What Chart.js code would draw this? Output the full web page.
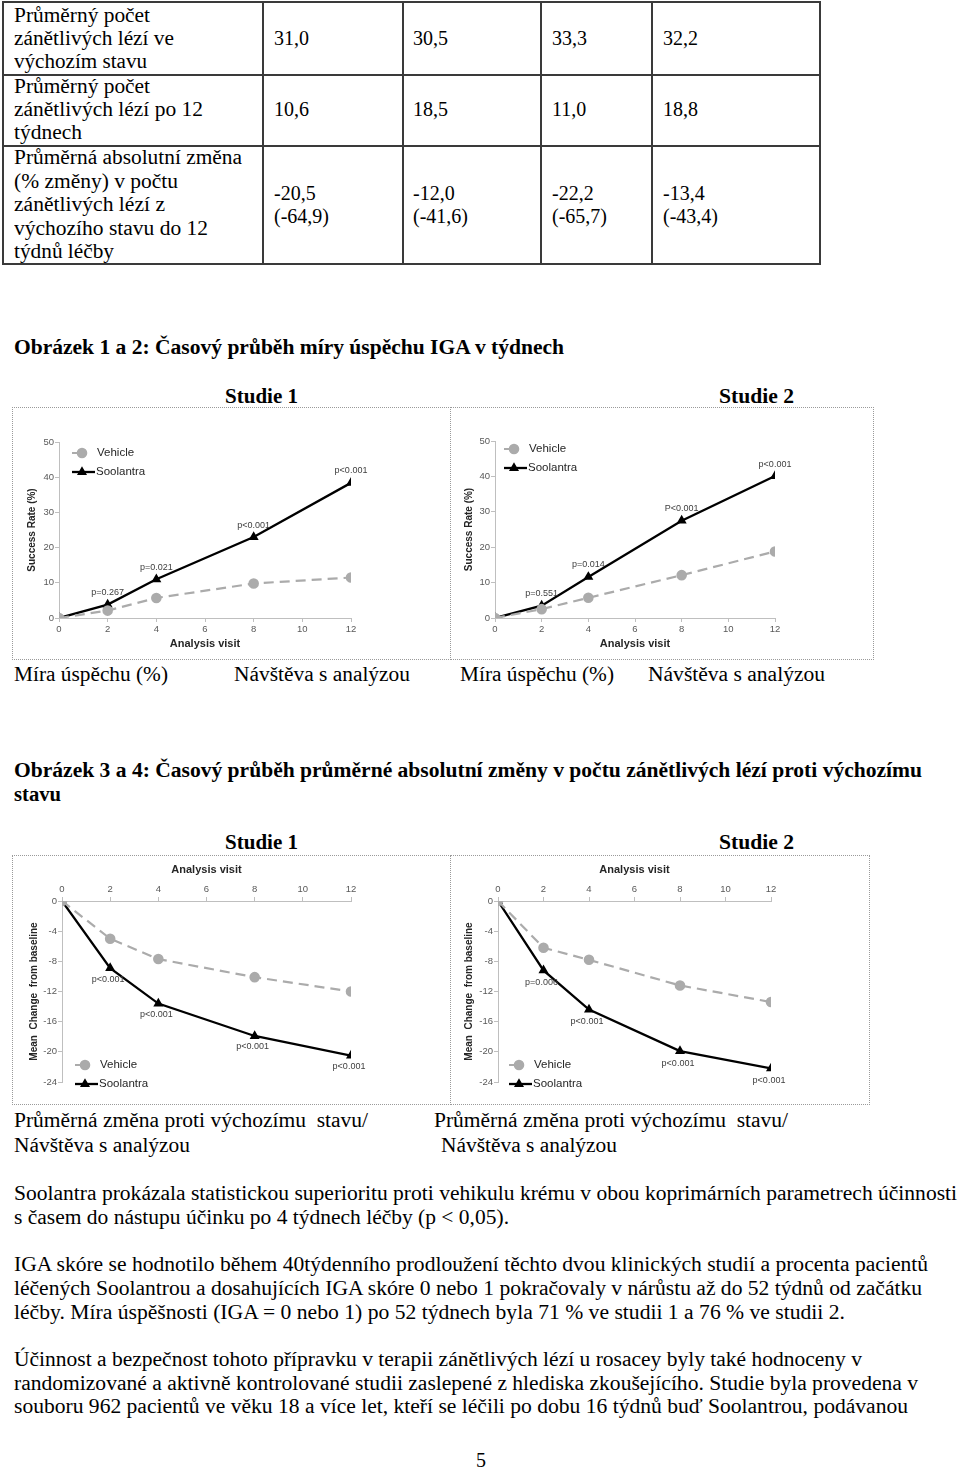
<!DOCTYPE html>
<html>
<head>
<meta charset="utf-8">
<script src="https://cdn.jsdelivr.net/npm/chart.js@4.4.0/dist/chart.umd.min.js"></script>
<style>
    body { margin: 0; width: 960px; height: 1468px; position: relative; overflow: hidden; background: #fff;
           font-family: "Liberation Serif", "Times New Roman", serif; color: #000; }
    .t { position: absolute; white-space: pre; font-size: 20px; line-height: 22px; transform-origin: 0 50%; }
    .b { font-weight: bold; }
    .ln { position: absolute; background: #3a3a3a; }
    .frame { position: absolute; border: 1px dotted #9a9a9a; box-sizing: border-box; }
    .frame canvas { display: block; }
</style>
</head>
<body>

<div class="frame" style="left:12px;top:407px;width:439px;height:253px"><canvas id="chart1"></canvas></div>
<div class="frame" style="left:450px;top:407px;width:424px;height:253px"><canvas id="chart2"></canvas></div>
<div class="frame" style="left:12px;top:855px;width:439px;height:250px"><canvas id="chart3"></canvas></div>
<div class="frame" style="left:450px;top:855px;width:420px;height:250px"><canvas id="chart4"></canvas></div>

<script>
// ---- chart data ----
const visits = [0, 2, 4, 8, 12];

const s1Vehicle   = [0, 2.1, 5.7, 9.8, 11.5];
const s1Soolantra = [0, 3.8, 11.0, 23.0, 38.4];
const s1PValues   = ['', 'p=0.267', 'p=0.021', 'p<0.001', 'p<0.001'];

const s2Vehicle   = [0, 2.5, 5.7, 12.1, 18.8];
const s2Soolantra = [0, 3.5, 11.6, 27.5, 40.1];
const s2PValues   = ['', 'p=0.551', 'p=0.014', 'P<0.001', 'p<0.001'];

const s1VehicleChange   = [0, -5.0, -7.7, -10.1, -12.0];
const s1SoolantraChange = [0, -8.9, -13.6, -17.9, -20.5];
const s1ChangePValues   = ['', 'p<0.001', 'p<0.001', 'p<0.001', 'p<0.001'];

const s2VehicleChange   = [0, -6.2, -7.8, -11.2, -13.4];
const s2SoolantraChange = [0, -9.2, -14.4, -19.9, -22.2];
const s2ChangePValues   = ['', 'p=0.006', 'p<0.001', 'p<0.001', 'p<0.001'];

const seriesNames = ['Vehicle', 'Soolantra'];

// ---- table data ----
const tableValues = [
    ['31,0', '30,5', '33,3', '32,2'],
    ['10,6', '18,5', '11,0', '18,8'],
    ['-20,5\n(-64,9)', '-12,0\n(-41,6)', '-22,2\n(-65,7)', '-13,4\n(-43,4)']
];

/**
 * Put one line of text at x / vertical centre y, squeezed to end at "right"
 */
function place(text, x, y, right, cls) {
    const d = document.createElement('div');
    d.className = 't ' + (cls || '');
    d.textContent = text;
    d.style.left = x + 'px';
    d.style.top = (y - 11) + 'px';
    document.body.appendChild(d);
    if (right) {
        const w = d.getBoundingClientRect().width;
        d.style.transform = 'scaleX(' + ((right - x) / w) + ')';
    }
}

function line(x, y, w, h) {
    const d = document.createElement('div');
    d.className = 'ln';
    d.style.cssText = 'left:' + x + 'px;top:' + y + 'px;width:' + w + 'px;height:' + h + 'px';
    document.body.appendChild(d);
}

// table grid
line(2, 1, 819, 2); line(2, 74, 819, 2); line(2, 145, 819, 2); line(2, 263, 819, 2);
[2, 262, 402, 540, 651, 819].forEach(x => line(x, 1, 2, 264));

// table labels
place('Průměrný počet', 14, 15, 150);
place('zánětlivých lézí ve', 14, 38, 174);
place('výchozím stavu', 14, 61, 147);
place('Průměrný počet', 14, 86, 150);
place('zánětlivých lézí po 12', 14, 109, 203);
place('týdnech', 14, 132, 82);
place('Průměrná absolutní změna', 14, 157, 242);
place('(% změny) v počtu', 14, 181, 178);
place('zánětlivých lézí z', 14, 204, 165);
place('výchozího stavu do 12', 14, 228, 208);
place('týdnů léčby', 14, 251, 114);

// table values
const colX = [274, 413, 552, 663];
const rowY = [38, 109, 193];
tableValues.forEach((row, r) => {
    row.forEach((v, c) => {
        v.split('\n').forEach((part, k) => place(part, colX[c], rowY[r] + k * 23));
    });
});

// headings and captions
place('Obrázek 1 a 2: Časový průběh míry úspěchu IGA v týdnech', 14, 347, 564, 'b');
place('Studie 1', 225, 396, 298, 'b');
place('Studie 2', 719, 396, 794, 'b');
place('Míra úspěchu (%)', 14, 674, 168);
place('Návštěva s analýzou', 234, 674, 410);
place('Míra úspěchu (%)', 460, 674, 614);
place('Návštěva s analýzou', 648, 674, 825);

place('Obrázek 3 a 4: Časový průběh průměrné absolutní změny v počtu zánětlivých lézí proti výchozímu', 14, 770, 922, 'b');
place('stavu', 14, 794, 61, 'b');
place('Studie 1', 225, 842, 298, 'b');
place('Studie 2', 719, 842, 794, 'b');
place('Průměrná změna proti výchozímu  stavu/', 14, 1120, 368);
place('Návštěva s analýzou', 14, 1145, 190);
place('Průměrná změna proti výchozímu  stavu/', 434, 1120, 788);
place('Návštěva s analýzou', 441, 1145, 617);

place('Soolantra prokázala statistickou superioritu proti vehikulu krému v obou koprimárních parametrech účinnosti', 14, 1193, 957);
place('s časem do nástupu účinku po 4 týdnech léčby (p < 0,05).', 14, 1217, 509);
place('IGA skóre se hodnotilo během 40týdenního prodloužení těchto dvou klinických studií a procenta pacientů', 14, 1264, 928);
place('léčených Soolantrou a dosahujících IGA skóre 0 nebo 1 pokračovaly v nárůstu až do 52 týdnů od začátku', 14, 1288, 922);
place('léčby. Míra úspěšnosti (IGA = 0 nebo 1) po 52 týdnech byla 71 % ve studii 1 a 76 % ve studii 2.', 14, 1312, 845);
place('Účinnost a bezpečnost tohoto přípravku v terapii zánětlivých lézí u rosacey byly také hodnoceny v', 14, 1359, 862);
place('randomizované a aktivně kontrolované studii zaslepené z hlediska zkoušejícího. Studie byla provedena v', 14, 1383, 918);
place('souboru 962 pacientů ve věku 18 a více let, kteří se léčili po dobu 16 týdnů buď Soolantrou, podávanou', 14, 1406, 908);
place('5', 476, 1460, 486);

// ---- charts ----
const chartFont = '"Liberation Sans", Arial, sans-serif';

// legend drawn inside the plot area
const insideLegend = {
    id: 'insideLegend',
    afterDatasetsDraw(chart, args, opts) {
        const ctx = chart.ctx;
        const area = chart.chartArea;
        const x0 = area.left + opts.dx;
        chart.data.datasets.forEach((ds, i) => {
            const y = (opts.fromBottom ? area.bottom : area.top) + opts.dy[i];
            ctx.save();
            ctx.strokeStyle = ds.borderColor;
            ctx.lineWidth = ds.borderWidth;
            ctx.setLineDash(ds.borderDash ? [5, 4] : []);
            ctx.beginPath();
            ctx.moveTo(x0, y);
            ctx.lineTo(x0 + (i === 0 ? 18 : 23), y);
            ctx.stroke();
            ctx.setLineDash([]);
            ctx.fillStyle = ds.pointBackgroundColor;
            Chart.helpers.drawPoint(ctx, {
                pointStyle: ds.pointStyle, radius: ds.pointRadius, rotation: 0, borderWidth: 1
            }, x0 + 10, y);
            ctx.fillStyle = '#262626';
            ctx.font = '11.5px ' + chartFont;
            ctx.textBaseline = 'middle';
            ctx.fillText(ds.label, x0 + (i === 0 ? 25 : 24), y);
            ctx.restore();
        });
    }
};

// p-value notes on the Soolantra points
const pNotes = {
    id: 'pNotes',
    afterDatasetsDraw(chart, args, opts) {
        const ctx = chart.ctx;
        const meta = chart.getDatasetMeta(1);
        ctx.save();
        ctx.fillStyle = '#404040';
        ctx.font = '9px ' + chartFont;
        ctx.textAlign = 'center';
        ctx.textBaseline = 'middle';
        opts.labels.forEach((txt, i) => {
            if (!txt) return;
            const pt = meta.data[i];
            ctx.fillText(txt, pt.x + (opts.dx || 0), pt.y + opts.dy);
        });
        ctx.restore();
    }
};

function makeChart(id, c) {
    const canvas = document.getElementById(id);
    canvas.width = c.w;
    canvas.height = c.h;
    const axisGrid = { display: true, drawOnChartArea: false, drawTicks: true, tickLength: 4, color: '#bfbfbf' };
    new Chart(canvas, {
        type: 'line',
        data: {
            datasets: [{
                label: seriesNames[0],
                data: visits.map((v, i) => ({ x: v, y: c.vehicle[i] })),
                borderColor: '#ababab',
                backgroundColor: '#ababab',
                pointBackgroundColor: '#ababab',
                pointBorderColor: '#ababab',
                borderWidth: 2.2,
                borderDash: [10, 6],
                pointStyle: 'circle',
                pointRadius: 4.2,
                tension: 0
            }, {
                label: seriesNames[1],
                data: visits.map((v, i) => ({ x: v, y: c.soolantra[i] })),
                borderColor: '#000000',
                backgroundColor: '#000000',
                pointBackgroundColor: '#000000',
                pointBorderColor: '#000000',
                borderWidth: 2.3,
                pointStyle: 'triangle',
                pointRadius: 3.5,
                tension: 0
            }]
        },
        options: {
            responsive: false,
            animation: false,
            devicePixelRatio: 1,
            layout: { padding: c.pad },
            plugins: {
                legend: { display: false },
                tooltip: { enabled: false },
                insideLegend: c.legend,
                pNotes: { labels: c.pValues, dy: c.pDy, dx: c.pDx }
            },
            scales: {
                x: {
                    type: 'linear',
                    position: c.xPos,
                    min: 0,
                    max: 12,
                    ticks: { stepSize: 2, color: '#595959', font: { family: chartFont, size: 9.5 }, padding: 2 },
                    grid: axisGrid,
                    border: { display: true, color: '#bfbfbf' },
                    title: { display: true, text: 'Analysis visit', color: '#262626',
                             font: { family: chartFont, size: 11, weight: 'bold' }, padding: 3 },
                    afterFit: s => { s.height = c.xHeight; }
                },
                y: {
                    min: c.yMin,
                    max: c.yMax,
                    ticks: { stepSize: c.yStep, color: '#595959', font: { family: chartFont, size: 9.5 }, padding: 1 },
                    grid: axisGrid,
                    border: { display: true, color: '#bfbfbf' },
                    title: { display: true, text: c.yTitle, color: '#262626',
                             font: { family: chartFont, size: 10, weight: 'bold' }, padding: 3 },
                    afterFit: s => { s.width = c.yWidth; }
                }
            }
        },
        plugins: [insideLegend, pNotes]
    });
}

makeChart('chart1', {
    w: 437, h: 251, vehicle: s1Vehicle, soolantra: s1Soolantra, pValues: s1PValues, pDy: -12,
    yMin: 0, yMax: 50, yStep: 10, yTitle: 'Success Rate (%)', xPos: 'bottom',
    pad: { left: 10, right: 99, top: 34, bottom: 5 }, yWidth: 36, xHeight: 36,
    legend: { dx: 13, dy: [11, 30], fromBottom: false }
});
makeChart('chart2', {
    w: 422, h: 251, vehicle: s2Vehicle, soolantra: s2Soolantra, pValues: s2PValues, pDy: -12,
    yMin: 0, yMax: 50, yStep: 10, yTitle: 'Success Rate (%)', xPos: 'bottom',
    pad: { left: 9, right: 98, top: 33, bottom: 5 }, yWidth: 35, xHeight: 36,
    legend: { dx: 9, dy: [8, 27], fromBottom: false }
});
makeChart('chart3', {
    w: 437, h: 248, vehicle: s1VehicleChange, soolantra: s1SoolantraChange, pValues: s1ChangePValues,
    pDy: 11, pDx: -2,
    yMin: -24, yMax: 0, yStep: 4, yTitle: 'Mean  Change  from baseline', xPos: 'top',
    pad: { left: 12, right: 99, top: 4, bottom: 22 }, yWidth: 37, xHeight: 41,
    legend: { dx: 13, dy: [-17, 2], fromBottom: true }
});
makeChart('chart4', {
    w: 418, h: 248, vehicle: s2VehicleChange, soolantra: s2SoolantraChange, pValues: s2ChangePValues,
    pDy: 12, pDx: -2,
    yMin: -24, yMax: 0, yStep: 4, yTitle: 'Mean  Change  from baseline', xPos: 'top',
    pad: { left: 9, right: 98, top: 4, bottom: 22 }, yWidth: 38, xHeight: 41,
    legend: { dx: 11, dy: [-17, 2], fromBottom: true }
});
</script>
</body>
</html>
